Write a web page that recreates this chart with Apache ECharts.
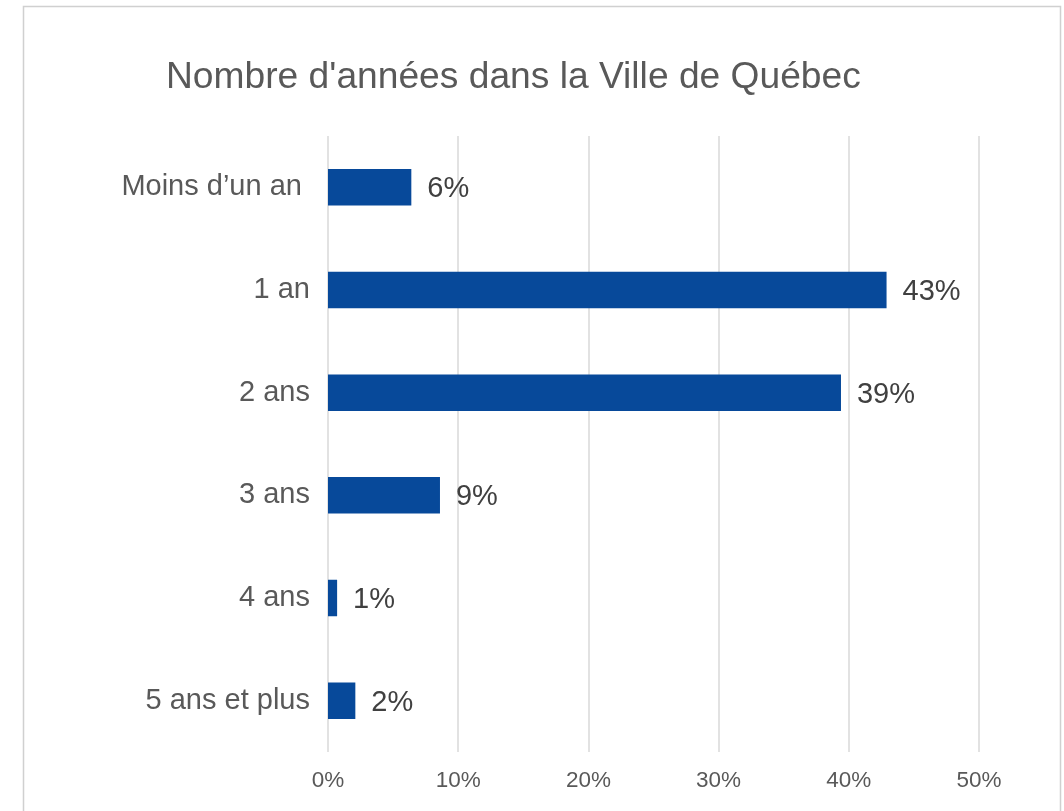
<!DOCTYPE html>
<html>
<head>
<meta charset="utf-8">
<script src="https://cdn.jsdelivr.net/npm/echarts@6/dist/echarts.min.js"></script>
<style>
	html, body { margin: 0; padding: 0; background: #fff; }
	#chart { width: 1064px; height: 811px; }
</style>
</head>
<body>
<div id="chart"></div>
<script>
var categories = ['Moins d\u2019un an ', '1 an', '2 ans', '3 ans', '4 ans', '5 ans et plus'];
var values = [6.4, 42.9, 39.4, 8.6, 0.7, 2.1];
var xTicks = [0, 10, 20, 30, 40, 50];

var chart = echarts.init(document.getElementById('chart'));
var font = 'Liberation Sans, Arial, sans-serif';

var option = {
	backgroundColor: '#fff',
	animation: false,
	title: {
		text: "Nombre d'années dans la Ville de Québec",
		left: 161,
		top: 54,
		textStyle: {
			fontFamily: font,
			fontSize: 37.2,
			fontWeight: 'normal',
			color: '#595959'
		}
	},
	graphic: [{
		type: 'rect',
		shape: { x: 23.5, y: 6.5, width: 1037, height: 830 },
		style: { fill: 'none', stroke: '#d0d0d0', lineWidth: 1.5 },
		silent: true
	}],
	grid: {
		left: 328,
		right: 85,
		top: 136,
		bottom: 59
	},
	xAxis: {
		type: 'value',
		min: xTicks[0],
		max: xTicks[xTicks.length - 1],
		interval: 10,
		axisLine: { show: false },
		axisTick: { show: false },
		splitLine: { lineStyle: { color: '#d9d9d9', width: 1.5 } },
		axisLabel: {
			formatter: '{value}%',
			fontFamily: font,
			fontSize: 22.5,
			color: '#595959',
			margin: 17
		}
	},
	yAxis: {
		type: 'category',
		inverse: true,
		data: categories,
		axisLine: { show: false },
		axisTick: { show: false },
		axisLabel: {
			fontFamily: font,
			fontSize: 29,
			color: '#595959',
			margin: 18
		}
	},
	series: [{
		type: 'bar',
		data: values,
		barWidth: 36.5,
		itemStyle: { color: '#07499A' },
		label: {
			show: true,
			position: 'right',
			distance: 16,
			offset: [0, 2],
			fontFamily: font,
			fontSize: 29,
			color: '#404040',
			formatter: function(p) {
				return Math.round(p.value) + '%';
			}
		}
	}]
};

chart.setOption(option);
</script>
</body>
</html>
